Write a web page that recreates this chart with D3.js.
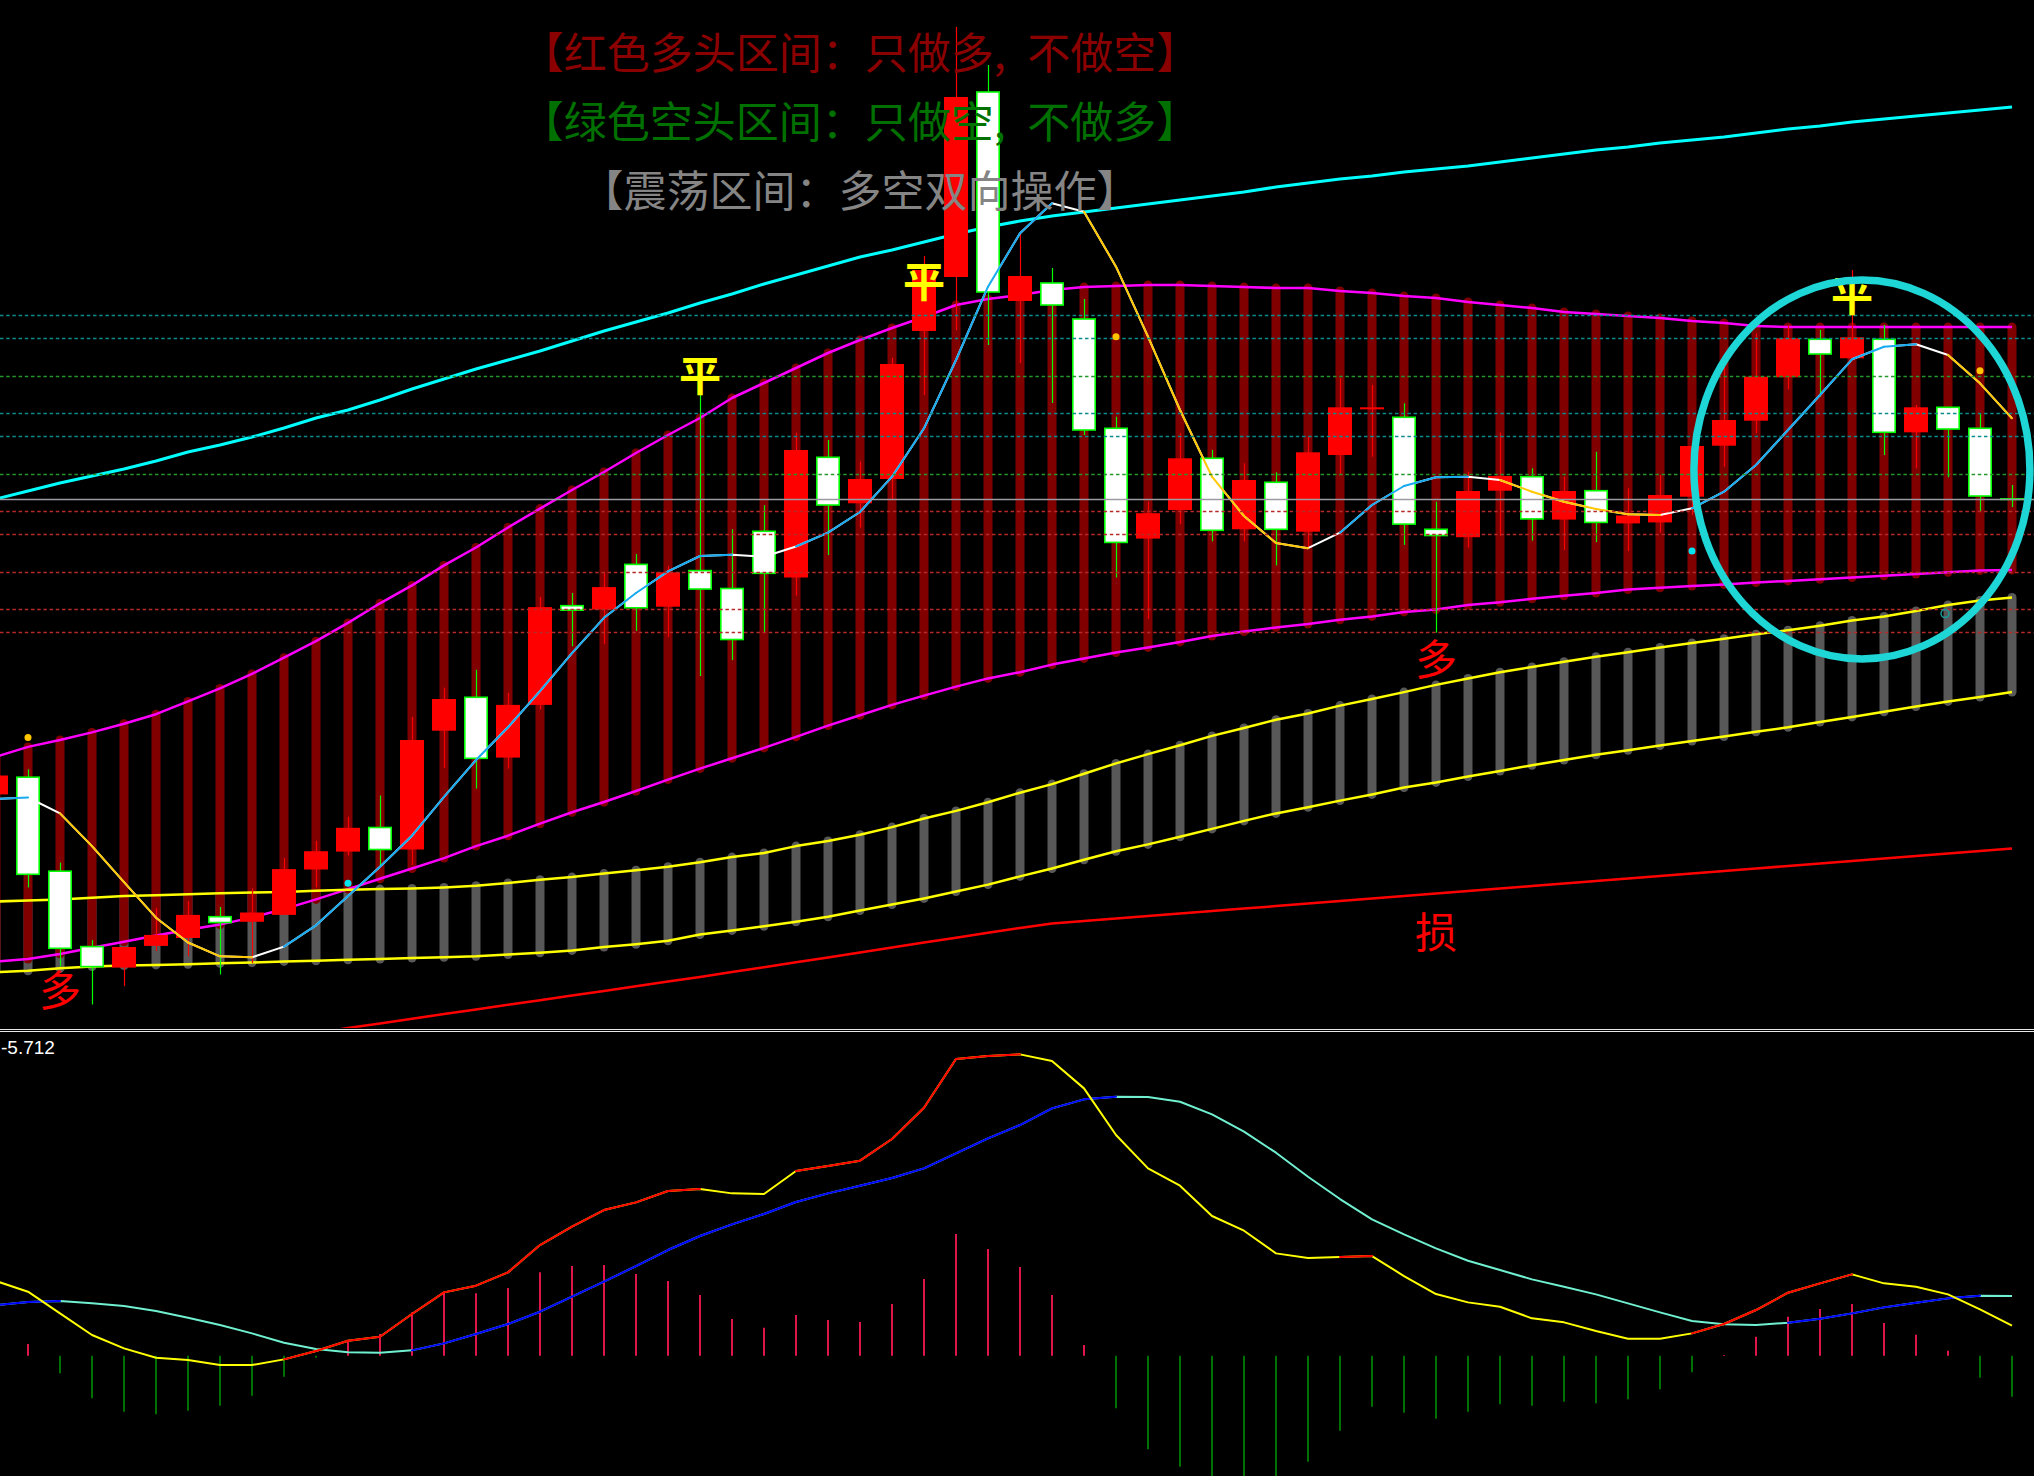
<!DOCTYPE html>
<html><head><meta charset="utf-8">
<script src="https://cdn.jsdelivr.net/npm/d3@7"></script>
<style>html,body{margin:0;padding:0;background:#000;overflow:hidden}</style>
</head><body>
<svg id="c" width="2034" height="1476" xmlns="http://www.w3.org/2000/svg"></svg>
<script>
// ---------- DATA (bar -1 .. 62) ----------
const barNo = d3.range(-1, 63);
const open  = [23.56,25.28,15.88,8.34,6.24,8.41,9.20,11.33,10.82,11.51,16.05,17.84,20.25,18.05,29.93,33.27,27.24,32.51,42.43,42.05,46.56,42.33,45.94,44.15,49.87,45.25,57.27,52.67,55.10,69.90,75.30,93.80,72.90,74.70,71.10,60.17,49.14,52.00,57.17,50.07,54.77,49.83,57.50,62.27,61.27,50.07,49.28,53.93,55.33,51.04,53.93,50.66,50.76,53.33,58.43,60.93,65.27,69.07,67.17,69.07,59.77,62.27,60.17,53.11];
const close = [25.45,15.57,8.17,6.34,8.30,9.51,11.51,10.75,11.75,16.09,17.88,20.22,18.05,29.00,33.10,27.17,32.51,42.29,41.98,44.29,42.22,45.77,44.10,39.05,45.67,58.00,52.50,55.10,66.60,76.00,93.30,73.80,75.40,72.50,60.00,48.76,51.68,57.17,49.97,55.00,50.07,57.77,62.27,62.27,50.59,49.45,53.90,55.40,51.11,53.90,50.76,51.45,53.50,58.40,61.00,65.33,69.17,67.60,69.27,59.77,62.27,60.10,53.40,53.10];
const high  = [25.60,26.07,16.74,8.99,8.30,12.19,12.88,12.30,14.16,17.19,18.91,21.32,23.45,31.31,34.23,36.02,33.72,43.29,43.70,45.77,47.59,46.39,63.80,50.07,52.48,59.73,59.00,56.83,67.20,77.40,100.30,96.50,79.70,76.20,73.10,61.33,52.83,59.67,58.00,56.67,55.77,59.33,65.17,64.50,62.67,52.83,55.83,59.73,56.17,55.33,57.83,54.17,55.50,58.40,66.33,69.67,70.50,70.00,76.00,70.50,62.50,62.27,61.60,54.50];
const low   = [23.40,14.26,6.34,2.55,4.38,7.89,7.37,5.55,6.69,11.51,14.26,17.46,16.43,16.50,26.21,24.14,26.14,32.06,38.37,38.61,39.91,39.29,35.40,36.99,39.81,43.43,47.49,50.25,53.00,63.50,70.00,68.50,66.70,62.70,59.50,45.25,41.12,50.59,48.87,48.87,46.46,48.18,55.50,57.33,48.52,39.74,48.25,49.38,48.94,48.01,48.80,47.90,49.73,51.50,56.33,59.67,64.07,63.33,67.17,57.50,56.17,55.27,51.80,52.30];
const ma5   = [23.10,23.25,21.66,18.39,14.78,11.23,8.75,7.37,7.27,8.34,10.47,13.40,16.33,19.43,23.32,27.00,30.27,33.89,37.68,41.22,43.70,45.87,47.40,47.52,47.32,48.35,49.73,51.80,55.33,60.17,67.00,74.33,79.67,82.67,81.83,76.33,69.33,62.00,55.33,51.40,48.70,48.18,49.73,52.50,54.40,55.27,55.33,55.00,53.83,52.83,52.10,51.57,51.50,52.17,53.83,56.50,60.00,63.50,67.07,68.33,68.57,67.50,64.67,61.17];
const bandUpper = [27.33,28.31,29.00,29.76,30.62,31.58,32.86,34.16,35.61,37.23,38.88,40.71,42.67,44.46,46.46,48.25,50.25,52.14,54.00,55.80,57.70,59.50,61.20,63.20,64.70,66.20,67.70,69.00,70.20,71.30,72.50,73.10,73.50,74.00,74.30,74.40,74.50,74.50,74.40,74.30,74.20,74.20,73.90,73.70,73.40,73.20,72.80,72.50,72.20,71.80,71.60,71.40,71.20,70.90,70.70,70.40,70.30,70.30,70.30,70.30,70.30,70.30,70.30,70.30];
const bandLower = [6.85,7.10,7.61,8.23,8.82,9.44,10.03,10.54,11.26,12.09,13.06,14.09,15.12,16.15,17.19,18.39,19.43,20.63,21.77,22.80,23.90,25.04,26.14,27.17,28.21,29.31,30.44,31.48,32.51,33.44,34.34,35.16,35.78,36.54,37.16,37.75,38.26,38.81,39.40,39.85,40.26,40.60,41.02,41.36,41.81,42.05,42.50,42.77,43.12,43.43,43.70,44.05,44.22,44.39,44.56,44.74,44.91,45.08,45.25,45.42,45.60,45.77,45.94,46.01];
const chanUpper = [12.85,12.95,13.06,13.23,13.40,13.47,13.57,13.68,13.74,13.81,13.92,14.02,14.09,14.16,14.26,14.43,14.71,15.02,15.29,15.64,15.98,16.33,16.77,17.29,17.70,18.39,18.91,19.53,20.29,21.15,21.91,22.77,23.73,24.59,25.62,26.66,27.59,28.48,29.41,30.20,31.03,31.65,32.44,33.10,33.79,34.51,35.16,35.78,36.30,36.82,37.33,37.78,38.26,38.71,39.12,39.57,39.98,40.43,40.95,41.36,41.91,42.50,42.94,43.25];
const chanLower = [5.78,5.93,6.17,6.34,6.44,6.51,6.58,6.68,6.75,6.86,6.93,7.03,7.10,7.20,7.27,7.37,7.55,7.72,7.96,8.30,8.58,8.92,9.54,9.96,10.37,10.82,11.33,11.95,12.54,13.16,13.85,14.54,15.36,16.15,17.02,17.88,18.56,19.32,20.11,20.91,21.66,22.28,22.94,23.56,24.25,24.76,25.35,25.90,26.48,27.00,27.52,27.97,28.45,28.90,29.34,29.83,30.27,30.79,31.31,31.82,32.34,32.86,33.30,33.79];
const trendTop  = [53.10,53.90,54.70,55.40,56.10,56.90,57.80,58.50,59.30,60.20,61.20,62.00,63.00,64.10,65.10,66.10,67.00,67.90,68.90,69.90,70.80,71.70,72.70,73.60,74.60,75.50,76.40,77.30,78.00,78.80,79.60,80.30,80.90,81.40,81.80,82.20,82.60,83.00,83.40,83.80,84.30,84.70,85.10,85.40,85.80,86.10,86.40,86.80,87.20,87.60,88.00,88.30,88.70,89.00,89.30,89.70,90.10,90.40,90.80,91.10,91.40,91.70,92.00,92.30];
const stopLine  = [null,null,null,null,null,null,null,null,null,-0.76,-0.30,0.20,0.66,1.12,1.59,2.05,2.52,2.98,3.44,3.91,4.37,4.84,5.30,5.79,6.28,6.77,7.26,7.75,8.24,8.74,9.23,9.72,10.21,10.64,10.89,11.14,11.39,11.64,11.89,12.14,12.39,12.64,12.89,13.14,13.39,13.64,13.89,14.14,14.40,14.65,14.90,15.15,15.40,15.65,15.90,16.15,16.40,16.66,16.91,17.16,17.41,17.66,17.91,18.16];
// horizontal reference levels
const tealLevels  = [71.47, 69.17, 61.67, 59.37];
const greenLevels = [65.37, 55.57];
const grayLevels  = [53.07];
const redLevels   = [51.87, 49.57, 45.77, 42.07, 39.77];
// signal marks (bar number, price level)
const goldDotBars = [0, 34, 61],   goldDotLevels = [29.24, 69.33, 65.93];
const cyanDotBars = [10, 52],      cyanDotLevels = [14.67, 47.90];
const ringBars    = [60],          ringLevels    = [41.64];
const pingBars    = [21, 28, 57],  pingLevels    = [65.80, 75.15, 73.75];
const duoBars     = [1, 44],       duoLevels     = [4.30, 37.40];
const sunBars     = [44],          sunLevels     = [10.10];
const focusBar = 57.31, focusLevel = 56.05;   // centre of highlighted zone
// MACD
const dif  = [2.24,1.92,1.27,0.62,0.22,-0.06,-0.13,-0.28,-0.28,-0.11,0.14,0.45,0.57,1.25,1.90,2.10,2.50,3.32,3.87,4.37,4.60,4.94,5.00,4.87,4.85,5.54,5.69,5.85,6.50,7.44,8.90,8.99,9.04,8.84,8.02,6.62,5.62,5.10,4.19,3.75,3.07,2.93,2.96,2.99,2.39,1.85,1.60,1.47,1.12,1.00,0.74,0.51,0.51,0.67,0.95,1.37,1.89,2.17,2.44,2.17,2.07,1.84,1.39,0.90];
const dea  = [1.52,1.61,1.64,1.57,1.49,1.34,1.14,0.92,0.67,0.39,0.20,0.10,0.09,0.16,0.37,0.65,0.95,1.32,1.77,2.22,2.69,3.17,3.59,3.94,4.25,4.61,4.87,5.10,5.33,5.62,6.07,6.52,6.92,7.42,7.69,7.77,7.76,7.62,7.24,6.72,6.09,5.37,4.70,4.09,3.64,3.22,2.85,2.57,2.29,2.07,1.84,1.57,1.30,1.04,0.94,0.92,0.99,1.11,1.27,1.45,1.59,1.72,1.80,1.79];
const macd = [0.80,0.35,-0.53,-1.28,-1.68,-1.76,-1.65,-1.50,-1.20,-0.63,-0.06,0.42,0.65,1.30,1.91,1.87,2.03,2.50,2.69,2.72,2.45,2.24,1.82,1.10,0.84,1.22,1.07,1.01,1.55,2.30,3.65,3.20,2.66,1.82,0.32,-1.58,-2.81,-3.33,-3.80,-3.80,-3.80,-3.18,-2.25,-1.53,-1.71,-1.89,-1.68,-1.46,-1.50,-1.38,-1.43,-1.31,-1.01,-0.50,0.02,0.57,1.17,1.40,1.55,0.98,0.63,0.15,-0.66,-1.23];
const titles = ["【红色多头区间：只做多,\u2002不做空】", "【绿色空头区间：只做空,\u2002不做多】", "【震荡区间：多空双向操作】"];
const macdLabel = "-5.712";

// ---------- SCALES ----------
const W = 2034, H = 1476;
const x = d3.scaleLinear().domain([-1, 62]).range([-4, 2012]);
const y = d3.scaleLinear().domain([0, 103]).range([1030, 0]);
const ym = d3.scaleLinear().domain([-3.609, 9.681]).range([1476, 1033]);

const svg = d3.select("#c");
svg.append("rect").attr("width", W).attr("height", H).attr("fill", "#000");
const defs = svg.append("defs");
defs.append("clipPath").attr("id", "mainClip").append("rect").attr("x", 0).attr("y", 0).attr("width", W).attr("height", 1028);
defs.append("clipPath").attr("id", "subClip").append("rect").attr("x", 0).attr("y", 1033).attr("width", W).attr("height", H - 1033);

const main = svg.append("g").attr("clip-path", "url(#mainClip)");
const idx = d3.range(barNo.length);

// gray channel bars
main.append("g").selectAll("line").data(idx).join("line")
  .attr("x1", i => x(barNo[i])).attr("x2", i => x(barNo[i]))
  .attr("y1", i => y(chanUpper[i])).attr("y2", i => y(chanLower[i]))
  .attr("stroke", "#585858").attr("stroke-width", 9).attr("stroke-linecap", "round");
// dark red band bars
main.append("g").selectAll("line").data(idx).join("line")
  .attr("x1", i => x(barNo[i])).attr("x2", i => x(barNo[i]))
  .attr("y1", i => y(bandUpper[i])).attr("y2", i => y(bandLower[i]))
  .attr("stroke", "#800000").attr("stroke-width", 9).attr("stroke-linecap", "round");

const lineGen = d3.line().defined(d => d[1] != null).x(d => x(d[0])).y(d => y(d[1]));
function series(arr) { return arr.map((v, i) => [barNo[i], v]); }
function drawLine(g, arr, color, w) {
  g.append("path").attr("d", lineGen(series(arr))).attr("fill", "none")
    .attr("stroke", color).attr("stroke-width", w).attr("stroke-linejoin", "round");
}
drawLine(main, bandUpper, "#ff00ff", 2.5);
drawLine(main, bandLower, "#ff00ff", 2.5);
drawLine(main, chanUpper, "#ffff00", 2.5);
drawLine(main, chanLower, "#ffff00", 2.5);
drawLine(main, trendTop, "#00ffff", 3);
drawLine(main, stopLine, "#ff0000", 2.5);

// candles
const cg = main.append("g");
idx.forEach(i => {
  const k = barNo[i], xc = x(k);
  const up = close[i] >= open[i];
  const col = up ? "#ff0000" : "#00ff00";
  cg.append("line").attr("x1", Math.round(xc) + 0.5).attr("x2", Math.round(xc) + 0.5)
    .attr("y1", y(high[i])).attr("y2", y(low[i])).attr("stroke", col).attr("stroke-width", 1.2);
  const yt = y(Math.max(open[i], close[i])), yb = y(Math.min(open[i], close[i]));
  if (up) {
    cg.append("rect").attr("x", xc - 12).attr("width", 24)
      .attr("y", yt).attr("height", Math.max(yb - yt, 2)).attr("fill", "#ff0000");
  } else {
    cg.append("rect").attr("x", xc - 11.2).attr("width", 22.4)
      .attr("y", yt).attr("height", Math.max(yb - yt, 0.5))
      .attr("fill", "#ffffff").attr("stroke", "#00ff00").attr("stroke-width", 1.6);
  }
});

// colour-by-trend line helper
function trendLine(g, vals, base, upCol, dnCol, w, yS) {
  const n = vals.length;
  const up = vals.map((v, i) => i > 0 && v > vals[i - 1]);
  const dn = vals.map((v, i) => i > 0 && v < vals[i - 1]);
  up[0] = up[1]; dn[0] = dn[1];
  const lg = d3.line().x(d => x(d[0])).y(d => yS(d[1]));
  g.append("path").attr("d", lg(vals.map((v, i) => [barNo[i], v]))).attr("fill", "none")
    .attr("stroke", base).attr("stroke-width", w).attr("stroke-linejoin", "round");
  for (let i = 1; i < n; i++) {
    let c = null;
    if (up[i - 1] && up[i] && upCol) c = upCol;
    else if (dn[i - 1] && dn[i] && dnCol) c = dnCol;
    if (!c) continue;
    g.append("line").attr("x1", x(barNo[i - 1])).attr("y1", yS(vals[i - 1]))
      .attr("x2", x(barNo[i])).attr("y2", yS(vals[i]))
      .attr("stroke", c).attr("stroke-width", w).attr("stroke-linecap", "round");
  }
}
trendLine(main, ma5, "#ffffff", "#16aaf0", "#ffc800", 2, y);

// horizontal reference levels
function hLevels(levels, color, dash) {
  main.append("g").selectAll("line").data(levels).join("line")
    .attr("x1", 0).attr("x2", W).attr("y1", d => Math.round(y(d)) + 0.5).attr("y2", d => Math.round(y(d)) + 0.5)
    .attr("stroke", color).attr("stroke-width", 1.3).attr("stroke-dasharray", dash);
}
hLevels(tealLevels, "#0a8c8c", "3.5,2.7");
hLevels(greenLevels, "#24962c", "3.5,2.7");
hLevels(redLevels, "#b82a28", "3.5,2.7");
hLevels(grayLevels, "#9a9aa2", null);

// dots
function dots(bars, levels, color, r) {
  main.append("g").selectAll("circle").data(bars).join("circle")
    .attr("cx", (b) => x(b)).attr("cy", (b, j) => y(levels[j])).attr("r", r).attr("fill", color);
}
dots(goldDotBars, goldDotLevels, "#ffc400", 3.5);
dots(cyanDotBars, cyanDotLevels, "#00e5ef", 3.5);
main.append("g").selectAll("circle").data(ringBars).join("circle")
  .attr("cx", b => x(b) - 3).attr("cy", (b, j) => y(ringLevels[j])).attr("r", 4)
  .attr("fill", "none").attr("stroke", "#1a9a9a").attr("stroke-width", 1.5);

// text marks
function marks(bars, levels, txt, color, weight) {
  main.append("g").selectAll("text").data(bars).join("text")
    .attr("x", b => x(b)).attr("y", (b, j) => y(levels[j]))
    .attr("text-anchor", "middle").attr("dominant-baseline", "central")
    .attr("font-family", "'Noto Sans CJK SC', sans-serif").attr("font-size", 42)
    .attr("font-weight", weight).attr("fill", color).text(txt);
}
marks(pingBars, pingLevels, "平", "#ffff00", 700);
marks(duoBars, duoLevels, "多", "#ff0000", 400);
marks(sunBars, sunLevels, "损", "#ff0000", 400);

// highlight ellipse
main.append("ellipse").attr("cx", x(focusBar)).attr("cy", y(focusLevel)).attr("rx", 168).attr("ry", 189.5)
  .attr("fill", "none").attr("stroke", "#1ed6d6").attr("stroke-width", 7.5);

// titles
const titleColors = ["#8b0000", "#007000", "#858585"];
const titleRows = [50, 119, 188];
svg.append("g").selectAll("text").data(titles).join("text")
  .attr("x", 860).attr("y", (d, i) => titleRows[i])
  .attr("text-anchor", "middle").attr("dominant-baseline", "central")
  .attr("font-family", "'Noto Sans CJK SC', sans-serif").attr("font-size", 43)
  .attr("fill", (d, i) => titleColors[i]).text(d => d);

// separator
svg.append("line").attr("x1", 0).attr("x2", W).attr("y1", 1029.5).attr("y2", 1029.5).attr("stroke", "#e8e8e8").attr("stroke-width", 1);
svg.append("line").attr("x1", 0).attr("x2", W).attr("y1", 1031.5).attr("y2", 1031.5).attr("stroke", "#e8e8e8").attr("stroke-width", 1);

// ---------- MACD ----------
const sub = svg.append("g").attr("clip-path", "url(#subClip)");
sub.append("g").selectAll("line").data(idx).join("line")
  .attr("x1", i => Math.round(x(barNo[i]))).attr("x2", i => Math.round(x(barNo[i])))
  .attr("y1", ym(0)).attr("y2", i => ym(macd[i]))
  .attr("stroke", i => macd[i] >= 0 ? "#e0164a" : "#007000").attr("stroke-width", 2);
trendLine(sub, dea, "#70f0d0", "#0000ff", null, 2, ym);
trendLine(sub, dif, "#ffff00", "#ff0000", null, 2, ym);

svg.append("text").attr("x", 1).attr("y", 1054).attr("font-family", "'Liberation Sans', Arial, sans-serif")
  .attr("font-size", 19).attr("fill", "#ffffff").text(macdLabel);
</script>
</body></html>
